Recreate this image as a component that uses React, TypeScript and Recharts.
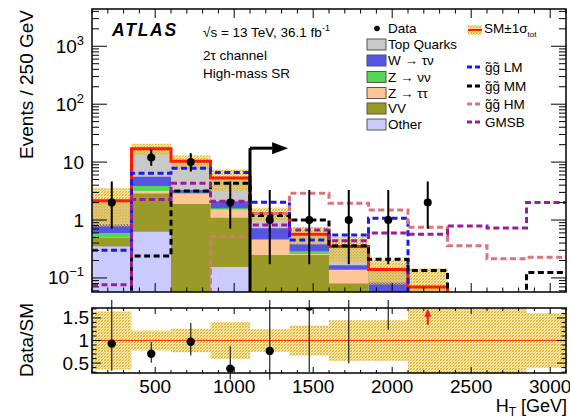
import React from "react";
import {
  ComposedChart,
  Area,
  Line,
  Scatter,
  XAxis,
  YAxis,
  ErrorBar,
  ReferenceLine,
  ReferenceArea,
  ReferenceDot,
} from "recharts";

// ---------------- data ----------------
const binEdges = [100, 350, 600, 850, 1100, 1350, 1600, 1850, 2100, 2350, 2600, 2850, 3100];
const binCenters = [225, 475, 725, 975, 1225, 1475, 1725, 1975, 2225, 2475, 2725, 2975];

// stacked backgrounds (bottom -> top), events per bin
const otherBkg = [0.35, 0.63, 0.03, 0.155, 0.03, 0.02, 0.005, 0.001, 0.001, 0.001, 0.001, 0.001];
const vvBkg = [0.15, 2.25, 1.87, 0.945, 0.22, 0.23, 0.075, 0.001, 0.001, 0.001, 0.001, 0.001];
const zttBkg = [0.01, 0.28, 0.95, 0.42, 0.2, 0.01, 0.057, 0.001, 0.001, 0.001, 0.001, 0.001];
const znnBkg = [0.09, 0.7, 0.1, 0.08, 0.02, 0.03, 0.003, 0.001, 0.001, 0.001, 0.001, 0.001];
const wtnBkg = [0.25, 1.74, 0.35, 0.5, 0.25, 0.09, 0.025, 0.08, 0.03, 0.001, 0.001, 0.001];
const topBkg = [1.3, 11.4, 7.0, 3.2, 0.58, 0.19, 0.185, 0.056, 0.036, 0.005, 0.005, 0.005];
const smRelUnc = [0.64, 0.22, 0.26, 0.41, 0.25, 0.33, 0.45, 0.45, 1.1, 1.0, 1.0, 0.61];

// data
const dataCounts = [2, 12, 10, 2, 1, 1, 1, 1, 2, 0, 0, 0];
const dataLow = [0.708, 8.62, 6.88, 0.708, 0.173, 0.173, 0.173, 0.173, 0.708, 0, 0, 0];
const dataHigh = [4.638, 16.45, 14.27, 4.638, 3.3, 3.3, 3.3, 3.3, 4.638, 0, 0, 0];

// signals
const sigLM = [0.3, 6.4, 7.8, 6.6, 2.02, 0.45, 0.55, 1.07, 0.001, 0.001, 0.001, 0.001];
const sigMM = [0.001, 0.24, 3.16, 4.3, 1.2, 1.0, 0.36, 0.21, 0.134, 0.001, 0.001, 0.124];
const sigHM = [0.001, 0.001, 0.001, 0.52, 1.3, 2.9, 1.94, 1.49, 0.75, 0.36, 0.215, 0.227];
const sigGMSB = [0.076, 2.27, 4.3, 2.1, 0.82, 0.67, 0.44, 0.6, 0.57, 0.79, 0.73, 2.0];

// signal-region arrow (GeV, events)
const srArrow = { x: 1100, xEnd: 1240, y: 17.4 };

// axis ticks
const xTicks = [100, 200, 300, 400, 500, 600, 700, 800, 900, 1000, 1100, 1200, 1300, 1400, 1500, 1600, 1700, 1800, 1900, 2000, 2100, 2200, 2300, 2400, 2500, 2600, 2700, 2800, 2900, 3000, 3100];
const xMajorTicks = [500, 1000, 1500, 2000, 2500, 3000];
const xMajorLabels = ["500", "1000", "1500", "2000", "2500", "3000"];
const yTicks = [0.06, 0.07, 0.08, 0.09, 0.1, 0.2, 0.3, 0.4, 0.5, 0.6, 0.7, 0.8, 0.9, 1, 2, 3, 4, 5, 6, 7, 8, 9, 10, 20, 30, 40, 50, 60, 70, 80, 90, 100, 200, 300, 400, 500, 600, 700, 800, 900, 1000, 2000, 3000, 4000];
const yMajorTicks = [0.1, 1, 10, 100, 1000];
const yMajorLabels = [["10", "\u22121"], ["1", ""], ["10", ""], ["10", "2"], ["10", "3"]];
const rTicks = [0.3, 0.4, 0.5, 0.6, 0.7, 0.8, 0.9, 1, 1.1, 1.2, 1.3, 1.4, 1.5, 1.6, 1.7];
const rMajorTicks = [0.5, 1, 1.5];
const rMajorLabels = ["0.5", "1", "1.5"];

// ---------------- layout / style ----------------
const FONT = '"Liberation Sans", Arial, Helvetica, sans-serif';
const W = 570;
const MAIN_H = 300;
const PW = 474; // plot width
const PH = 283; // main plot height
const RH = 65; // ratio plot height
const YMIN = 0.0572;
const YMAX = 4400;
const RMIN = 0.28;
const RMAX = 1.72;

const C = {
  top: "#c8c8c8",
  wtn: "#5555e2",
  znn: "#55d655",
  ztt: "#fdc696",
  vv: "#9b9a28",
  other: "#cacaff",
  lm: "#1a1aee",
  mm: "#000000",
  hm: "#d9737c",
  gmsb: "#9c1a9c",
  sm: "#ff1a00",
};

// ---------------- derived tables ----------------
const smTotal = binCenters.map(
  (_, j) => otherBkg[j] + vvBkg[j] + zttBkg[j] + znnBkg[j] + wtnBkg[j] + topBkg[j]
);

const stepRows = binEdges.map((x, i) => {
  const j = Math.min(i, binCenters.length - 1);
  const c1 = otherBkg[j];
  const c2 = c1 + vvBkg[j];
  const c3 = c2 + zttBkg[j];
  const c4 = c3 + znnBkg[j];
  const c5 = c4 + wtnBkg[j];
  const c6 = c5 + topBkg[j];
  const u = smRelUnc[j];
  return {
    x,
    other: c1,
    vv: c2,
    ztt: c3,
    znn: c4,
    wtn: c5,
    top: c6,
    sm: c6,
    band: [Math.max(c6 * (1 - u), 1e-4), c6 * (1 + u)],
    rband: [1 - u, 1 + u],
    lm: sigLM[j],
    mm: sigMM[j],
    hm: sigHM[j],
    gmsb: sigGMSB[j],
  };
});

const dataRows = binCenters
  .map((x, j) => ({
    x,
    n: dataCounts[j],
    err: [dataCounts[j] - dataLow[j], dataHigh[j] - dataCounts[j]],
    sm: smTotal[j],
  }))
  .filter((d) => d.n > 0);

const ratioRows = dataRows.map((d) => ({
  x: d.x,
  r: d.n / d.sm,
  rerr: [d.err[0] / d.sm, d.err[1] / d.sm],
}));

const arrowRows = ratioRows
  .filter((d) => d.r - d.rerr[0] > RMAX)
  .map((d) => ({ x: d.x, y: 1.35 }));

// ---------------- helpers ----------------
function Hatch({ id }: { id: string }) {
  return (
    <pattern id={id} patternUnits="userSpaceOnUse" width={3} height={3}>
      <path d="M0,3 L3,0 M-1,1 L1,-1 M2,4 L4,2" stroke="#dcad22" strokeWidth={1.1} />
      <path d="M0,0 L3,3 M-1,2 L1,4 M2,-1 L4,1" stroke="#efd050" strokeWidth={0.9} />
    </pattern>
  );
}

function MainYTick(props: any) {
  const { x, y, payload } = props;
  const k = yMajorTicks.indexOf(payload.value);
  const major = k >= 0;
  const len = major ? 15 : 7;
  return (
    <g>
      <line x1={x} x2={x + len} y1={y} y2={y} stroke="#000" strokeWidth={1} />
      <line x1={x + PW} x2={x + PW - len} y1={y} y2={y} stroke="#000" strokeWidth={1} />
      {major && (
        <text x={x - 8} y={y + 6.5} textAnchor="end" fontSize={19} fontFamily={FONT} fill="#000">
          {yMajorLabels[k][0]}
          {yMajorLabels[k][1] !== "" && (
            <tspan dy={-8} fontSize={13}>
              {yMajorLabels[k][1]}
            </tspan>
          )}
        </text>
      )}
    </g>
  );
}

function MainXTick(props: any) {
  const { x, y, payload } = props;
  const major = xMajorTicks.indexOf(payload.value) >= 0;
  const len = major ? 9 : 4.5;
  return (
    <g>
      <line x1={x} x2={x} y1={y} y2={y - len} stroke="#000" strokeWidth={1} />
      <line x1={x} x2={x} y1={y - PH} y2={y - PH + len} stroke="#000" strokeWidth={1} />
    </g>
  );
}

function RatioYTick(props: any) {
  const { x, y, payload } = props;
  const k = rMajorTicks.indexOf(payload.value);
  const major = k >= 0;
  const len = major ? 9 : 4.5;
  return (
    <g>
      <line x1={x} x2={x + len} y1={y} y2={y} stroke="#000" strokeWidth={1} />
      <line x1={x + PW} x2={x + PW - len} y1={y} y2={y} stroke="#000" strokeWidth={1} />
      {major && (
        <text x={x - 3} y={y + 6.5} textAnchor="end" fontSize={19} fontFamily={FONT} fill="#000">
          {rMajorLabels[k]}
        </text>
      )}
    </g>
  );
}

function RatioXTick(props: any) {
  const { x, y, payload } = props;
  const k = xMajorTicks.indexOf(payload.value);
  const major = k >= 0;
  const len = major ? 6 : 3;
  return (
    <g>
      <line x1={x} x2={x} y1={y} y2={y - len} stroke="#000" strokeWidth={1} />
      <line x1={x} x2={x} y1={y - RH} y2={y - RH + len} stroke="#000" strokeWidth={1} />
      {major && (
        <text x={x} y={y + 19.5} textAnchor="middle" fontSize={19} fontFamily={FONT} fill="#000">
          {xMajorLabels[k]}
        </text>
      )}
    </g>
  );
}

const dataDot = (r: number) => (p: any) => <circle cx={p.cx} cy={p.cy} r={r} fill="#000" />;

const redArrow = (p: any) => (
  <g>
    <line x1={p.cx} x2={p.cx} y1={p.cy} y2={p.cy - 9} stroke="#ff1a00" strokeWidth={2} />
    <polygon
      points={`${p.cx - 3.5},${p.cy - 8} ${p.cx + 3.5},${p.cy - 8} ${p.cx},${p.cy - 16}`}
      fill="#ff1a00"
    />
  </g>
);

const srHead = (p: any) => (
  <polygon points={`${p.cx},${p.cy - 6} ${p.cx},${p.cy + 6} ${p.cx + 16},${p.cy}`} fill="#000" />
);

const legendBkg = [
  { label: "Top Quarks", color: C.top },
  { label: "W \u2192 \u03c4\u03bd", color: C.wtn },
  { label: "Z \u2192 \u03bd\u03bd", color: C.znn },
  { label: "Z \u2192 \u03c4\u03c4", color: C.ztt },
  { label: "VV", color: C.vv },
  { label: "Other", color: C.other },
];
const legendBkgY = [44.5, 60.5, 77, 93, 108.5, 124.5];
const legendSig = [
  { label: "g\u0303g\u0303 LM", color: C.lm },
  { label: "g\u0303g\u0303 MM", color: C.mm },
  { label: "g\u0303g\u0303 HM", color: C.hm },
  { label: "GMSB", color: C.gmsb },
];
const legendSigY = [67, 86, 104, 122];

// ---------------- component ----------------
export default function App() {
  const lineProps = {
    type: "stepAfter" as const,
    dot: false,
    activeDot: false,
    isAnimationActive: false,
    strokeWidth: 3,
    strokeDasharray: "6 3.5",
  };
  const areaProps = {
    type: "stepAfter" as const,
    baseValue: YMIN,
    stroke: "none",
    fillOpacity: 1,
    dot: false,
    activeDot: false,
    isAnimationActive: false,
  };

  return (
    <div
      style={{
        position: "absolute",
        left: 0,
        top: 0,
        width: W,
        height: 418,
        background: "#fff",
        overflow: "hidden",
        fontFamily: FONT,
      }}
    >
      {/* ---------- main panel: series ---------- */}
      <div style={{ position: "absolute", left: 0, top: 0 }}>
        <ComposedChart width={W} height={MAIN_H} data={stepRows} margin={{ top: 9, right: 4, bottom: 0, left: 0 }}>
          <defs>
            <Hatch id="hatchMain" />
          </defs>
          <XAxis type="number" dataKey="x" domain={[100, 3100]} allowDataOverflow ticks={xTicks} height={8} tick={false} axisLine={false} tickLine={false} />
          <YAxis type="number" scale="log" domain={[YMIN, YMAX]} allowDataOverflow ticks={yTicks} width={92} tick={false} axisLine={false} tickLine={false} />
          <Area {...areaProps} dataKey="top" fill={C.top} />
          <Area {...areaProps} dataKey="wtn" fill={C.wtn} />
          <Area {...areaProps} dataKey="znn" fill={C.znn} />
          <Area {...areaProps} dataKey="ztt" fill={C.ztt} />
          <Area {...areaProps} dataKey="vv" fill={C.vv} />
          <Area {...areaProps} dataKey="other" fill={C.other} />
          <Area type="stepAfter" dataKey="band" fill="url(#hatchMain)" fillOpacity={1} stroke="none" dot={false} activeDot={false} isAnimationActive={false} />
          <Line type="stepAfter" dataKey="sm" stroke={C.sm} strokeWidth={3} dot={false} activeDot={false} isAnimationActive={false} />
          <Line {...lineProps} dataKey="lm" stroke={C.lm} />
          <Line {...lineProps} dataKey="mm" stroke={C.mm} />
          <Line {...lineProps} dataKey="hm" stroke={C.hm} />
          <Line {...lineProps} dataKey="gmsb" stroke={C.gmsb} />
          <ReferenceLine
            segment={[
              { x: srArrow.x, y: YMIN },
              { x: srArrow.x, y: srArrow.y },
            ]}
            stroke="#000"
            strokeWidth={3}
          />
          <ReferenceLine
            segment={[
              { x: srArrow.x, y: srArrow.y },
              { x: srArrow.xEnd, y: srArrow.y },
            ]}
            stroke="#000"
            strokeWidth={3}
          />
          <ReferenceDot x={srArrow.xEnd} y={srArrow.y} r={6} shape={srHead} />
          <Scatter data={dataRows} dataKey="n" shape={dataDot(4)} isAnimationActive={false}>
            <ErrorBar dataKey="err" direction="y" width={0} stroke="#000" strokeWidth={2} />
          </Scatter>
        </ComposedChart>
      </div>

      {/* ---------- main panel: axes + frame ---------- */}
      <div style={{ position: "absolute", left: 0, top: 0 }}>
        <ComposedChart width={W} height={MAIN_H} data={stepRows} margin={{ top: 9, right: 4, bottom: 0, left: 0 }}>
          <XAxis type="number" dataKey="x" domain={[100, 3100]} allowDataOverflow ticks={xTicks} interval={0} height={8} tickSize={0} tickMargin={0} axisLine={false} tickLine={false} tick={<MainXTick />} />
          <YAxis type="number" scale="log" domain={[YMIN, YMAX]} allowDataOverflow ticks={yTicks} interval={0} width={92} tickSize={0} tickMargin={0} axisLine={false} tickLine={false} tick={<MainYTick />} />
          <Line dataKey="sm" stroke="none" dot={false} activeDot={false} isAnimationActive={false} />
          <ReferenceArea x1={100} x2={3100} y1={YMIN} y2={YMAX} fill="none" fillOpacity={0} stroke="#000" strokeWidth={1.5} />
        </ComposedChart>
      </div>

      {/* ---------- ratio panel: series ---------- */}
      <div style={{ position: "absolute", left: 0, top: 300 }}>
        <ComposedChart width={W} height={118} data={stepRows} margin={{ top: 8, right: 4, bottom: 5, left: 0 }}>
          <defs>
            <Hatch id="hatchRatio" />
          </defs>
          <XAxis type="number" dataKey="x" domain={[100, 3100]} allowDataOverflow ticks={xTicks} height={40} tick={false} axisLine={false} tickLine={false} />
          <YAxis type="number" domain={[RMIN, RMAX]} allowDataOverflow ticks={rTicks} width={92} tick={false} axisLine={false} tickLine={false} />
          <Area type="stepAfter" dataKey="rband" fill="url(#hatchRatio)" fillOpacity={1} stroke="none" dot={false} activeDot={false} isAnimationActive={false} />
          <ReferenceLine y={1} stroke="#ff3a12" strokeWidth={1} />
          <Scatter data={ratioRows} dataKey="r" shape={dataDot(4.2)} isAnimationActive={false}>
            <ErrorBar dataKey="rerr" direction="y" width={0} stroke="#222" strokeWidth={1.2} />
          </Scatter>
          <Scatter data={arrowRows} dataKey="y" shape={redArrow} isAnimationActive={false} />
        </ComposedChart>
      </div>

      {/* ---------- ratio panel: axes + frame ---------- */}
      <div style={{ position: "absolute", left: 0, top: 300 }}>
        <ComposedChart width={W} height={118} data={stepRows} margin={{ top: 8, right: 4, bottom: 5, left: 0 }}>
          <XAxis type="number" dataKey="x" domain={[100, 3100]} allowDataOverflow ticks={xTicks} interval={0} height={40} tickSize={0} tickMargin={0} axisLine={false} tickLine={false} tick={<RatioXTick />} />
          <YAxis type="number" domain={[RMIN, RMAX]} allowDataOverflow ticks={rTicks} interval={0} width={92} tickSize={0} tickMargin={0} axisLine={false} tickLine={false} tick={<RatioYTick />} />
          <Line dataKey="sm" stroke="none" dot={false} activeDot={false} isAnimationActive={false} />
          <ReferenceArea x1={100} x2={3100} y1={RMIN} y2={RMAX} fill="none" fillOpacity={0} stroke="#000" strokeWidth={1.5} />
        </ComposedChart>
      </div>

      {/* ---------- labels + legend ---------- */}
      <svg width={W} height={418} style={{ position: "absolute", left: 0, top: 0, pointerEvents: "none" }} fontFamily={FONT}>
        <defs>
          <Hatch id="hatchLegend" />
        </defs>
        <text x={112} y={36} fontSize={17.5} fontWeight="bold" fontStyle="italic" letterSpacing={1.8}>
          ATLAS
        </text>
        <text x={203} y={36.5} fontSize={13.5}>
          {"\u221as = 13 TeV, 36.1 fb"}
          <tspan dy={-6} fontSize={9}>
            -1
          </tspan>
        </text>
        <text x={203} y={59.5} fontSize={13.5}>
          {"2\u03c4 channel"}
        </text>
        <text x={203} y={78} fontSize={13.5}>
          High-mass SR
        </text>

        {/* Data */}
        <circle cx={377} cy={28.5} r={2.8} fill="#000" />
        <text x={388} y={32.5} fontSize={13.5}>
          Data
        </text>

        {/* SM band */}
        <rect x={468} y={25} width={14} height={10} fill="url(#hatchLegend)" />
        <line x1={468} x2={482} y1={30} y2={30} stroke={C.sm} strokeWidth={2} />
        <text x={484} y={32.5} fontSize={13.5}>
          {"SM\u00b11\u03c3"}
          <tspan dy={4} fontSize={8}>
            tot
          </tspan>
        </text>

        {legendBkg.map((e, i) => (
          <g key={e.label}>
            <rect x={367} y={legendBkgY[i] - 5.5} width={19} height={11} fill={e.color} stroke="#555" strokeWidth={1} />
            <text x={388} y={legendBkgY[i] + 4.5} fontSize={13.5}>
              {e.label}
            </text>
          </g>
        ))}

        {legendSig.map((e, i) => (
          <g key={e.label}>
            <line x1={467} x2={482} y1={legendSigY[i]} y2={legendSigY[i]} stroke={e.color} strokeWidth={3} strokeDasharray="5 3" />
            <text x={485} y={legendSigY[i] + 5} fontSize={13.5}>
              {e.label}
            </text>
          </g>
        ))}

        {/* axis titles */}
        <text transform="translate(33,10) rotate(-90)" textAnchor="end" fontSize={19}>
          Events / 250 GeV
        </text>
        <text transform="translate(33,340) rotate(-90)" textAnchor="middle" fontSize={19}>
          Data/SM
        </text>
        <text x={567} y={412} textAnchor="end" fontSize={18}>
          H
          <tspan dy={3.5} fontSize={12}>
            T
          </tspan>
          <tspan dy={-3.5} fontSize={18}>
            {" [GeV]"}
          </tspan>
        </text>
      </svg>
    </div>
  );
}
